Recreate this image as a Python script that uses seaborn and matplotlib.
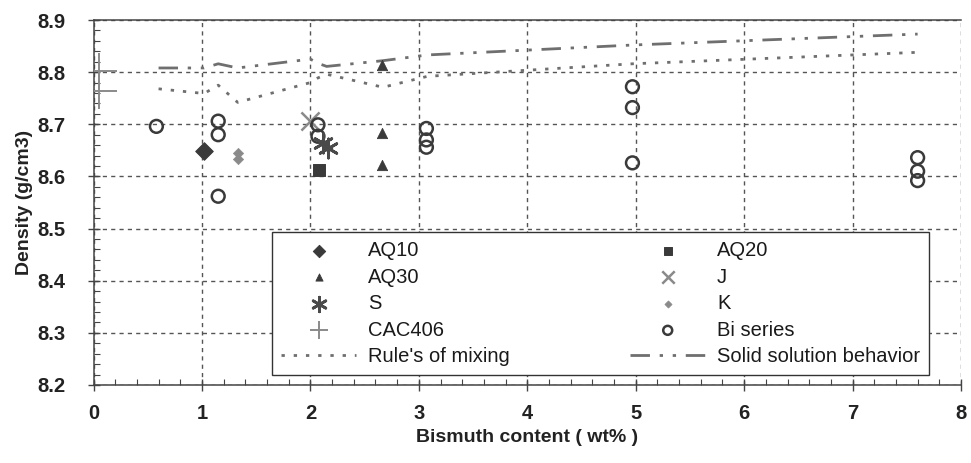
import matplotlib
matplotlib.use("Agg")
import matplotlib.pyplot as plt
from matplotlib.ticker import MultipleLocator
import seaborn as sns

# Measured densities (g/cm3) versus bismuth content (wt%)
aq10_x = [1.02]
aq10_y = [8.648]
aq20_x = [2.08]
aq20_y = [8.612]
aq30_x = [2.66, 2.66, 2.66]
aq30_y = [8.814, 8.684, 8.621]
j_x = [2.0]
j_y = [8.706]
s_x = [2.12, 2.16]
s_y = [8.664, 8.654]
k_x = [1.33, 1.33]
k_y = [8.645, 8.634]
cac406_x = [0.05, 0.05]
cac406_y = [8.802, 8.764]
bi_x = [0.58, 1.15, 1.15, 1.15, 2.07, 2.07, 3.07, 3.07, 3.07,
        4.97, 4.97, 4.97, 7.6, 7.6, 7.6]
bi_y = [8.696, 8.706, 8.680, 8.562, 8.699, 8.677, 8.692, 8.670, 8.656,
        8.772, 8.732, 8.626, 8.636, 8.610, 8.592]

# Model curves
model_x = [0.6, 1.02, 1.15, 1.33, 2.0, 2.07, 2.15, 2.67, 3.08, 4.97, 7.6]
mixing_y = [8.768, 8.759, 8.775, 8.742, 8.780, 8.789, 8.796, 8.771, 8.792, 8.816, 8.838]
solid_y = [8.808, 8.808, 8.816, 8.808, 8.825, 8.817, 8.811, 8.822, 8.833, 8.852, 8.873]

x_ticks = [0, 1, 2, 3, 4, 5, 6, 7, 8]
y_ticks = [8.2, 8.3, 8.4, 8.5, 8.6, 8.7, 8.8, 8.9]

sns.set_theme(style="white")
plt.rcParams["font.family"] = ["Liberation Sans", "DejaVu Sans"]

DARK = "#3a3a3a"
GREY = "#8a8a8a"

fig = plt.figure(figsize=(9.71, 4.63), dpi=100)
ax = fig.add_axes([0.0963, 0.1685, 0.8934, 0.7883])

# Model lines
sns.lineplot(x=model_x, y=mixing_y, ax=ax, color="#6f6f6f", lw=2.0,
             linestyle=(0, (1.2, 3.2)), estimator=None, sort=False,
             label="Rule's of mixing", zorder=2)
sns.lineplot(x=model_x, y=solid_y, ax=ax, color="#6f6f6f", lw=2.0,
             linestyle=(0, (7, 3.5, 1.2, 3.5, 1.2, 3.5)), estimator=None, sort=False,
             label="Solid solution behavior", zorder=2)

# Sample series
sns.scatterplot(x=aq10_x, y=aq10_y, ax=ax, marker="D", s=80, color=DARK,
                edgecolor=DARK, label="AQ10", zorder=4)
sns.scatterplot(x=aq20_x, y=aq20_y, ax=ax, marker="s", s=75, color=DARK,
                edgecolor=DARK, label="AQ20", zorder=4)
sns.scatterplot(x=aq30_x, y=aq30_y, ax=ax, marker="^", s=55, color=DARK,
                edgecolor=DARK, label="AQ30", zorder=4)
sns.scatterplot(x=j_x, y=j_y, ax=ax, marker="x", s=170, color=GREY,
                linewidth=1.8, label="J", zorder=4)
sns.scatterplot(x=s_x, y=s_y, ax=ax, marker=(6, 2, 0), s=190, color="#4a4a4a",
                linewidth=2.0, label="S", zorder=5)
sns.scatterplot(x=k_x, y=k_y, ax=ax, marker="D", s=28, color=GREY,
                edgecolor=GREY, label="K", zorder=4)
sns.scatterplot(x=cac406_x, y=cac406_y, ax=ax, marker="+", s=650, color=GREY,
                linewidth=1.4, label="CAC406", zorder=4)
sns.scatterplot(x=bi_x, y=bi_y, ax=ax, marker="o", s=85, facecolor="none",
                edgecolor=DARK, linewidth=1.8, label="Bi series", zorder=4)

ax.set_xlim(0, 8)
ax.set_ylim(8.2, 8.9)
ax.set_xticks(x_ticks)
ax.set_yticks(y_ticks)
ax.set_yticklabels([f"{v:.1f}" for v in y_ticks])
ax.xaxis.set_minor_locator(MultipleLocator(0.2))
ax.yaxis.set_minor_locator(MultipleLocator(0.02))

ax.grid(True, which="major", color="#555555", linestyle=(0, (3, 3)), linewidth=1.0)
ax.set_axisbelow(True)

for side in ("left", "bottom", "top"):
    ax.spines[side].set_color("#444444")
    ax.spines[side].set_linewidth(1.1)
ax.spines["right"].set_visible(False)

ax.tick_params(axis="both", which="major", direction="inout", length=8, width=1,
               color="#444444", labelsize=14.5, bottom=True, left=True)
ax.tick_params(axis="both", which="minor", direction="in", length=4, width=0.8,
               color="#444444", bottom=True, left=True)
ax.tick_params(axis="x", which="major", pad=10)
ax.tick_params(axis="y", which="major", pad=16)
for lbl in ax.get_xticklabels() + ax.get_yticklabels():
    lbl.set_fontweight("bold")
    lbl.set_color("#222222")

ax.set_xlabel("Bismuth content ( wt% )", fontsize=14, fontweight="bold",
              color="#222222", labelpad=4)
ax.set_ylabel("Density (g/cm3)", fontsize=14, fontweight="bold",
              color="#222222", labelpad=3)

handles, labels = ax.get_legend_handles_labels()
lookup = dict(zip(labels, handles))
order = ["AQ10", "AQ30", "S", "CAC406", "Rule's of mixing",
         "AQ20", "J", "K", "Bi series", "Solid solution behavior"]
leg = ax.legend([lookup[o] for o in order], order, ncol=2,
                loc="lower left", bbox_to_anchor=(0.206, 0.027), borderaxespad=0,
                fontsize=14.5, frameon=True, fancybox=False, edgecolor="#333333",
                framealpha=1.0, handlelength=3.7, handletextpad=0.6,
                columnspacing=6.0, labelspacing=0.37, borderpad=0.45,
                markerscale=0.7)
leg.get_frame().set_linewidth(1.0)
for t in leg.get_texts():
    t.set_color("#1a1a1a")

# Smaller symbols inside the legend box
legend_sizes = {"CAC406": 150, "J": 80, "S": 110}
for h, name in zip(leg.legend_handles, order):
    if name in legend_sizes:
        h.set_sizes([legend_sizes[name]])

fig.savefig("out.png", dpi=100)
